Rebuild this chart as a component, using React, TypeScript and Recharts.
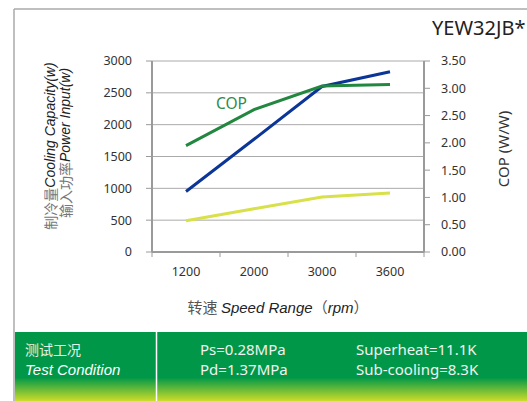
import { LineChart, Line, XAxis, YAxis, CartesianGrid } from "recharts";

const categories = ["1200", "2000", "3000", "3600"];
const coolingCapacity = [950, 1770, 2600, 2830];
const powerInput = [490, 680, 865, 925];
const cop = [1.95, 2.61, 3.04, 3.07];
const leftTicks = [0, 500, 1000, 1500, 2000, 2500, 3000];
const rightTicks = [0, 0.5, 1, 1.5, 2, 2.5, 3, 3.5];
const xTicks = [0, 1, 2, 3, 4];

const data = categories.map((c, i) => ({
  x: i + 0.5,
  speed: c,
  capacity: coolingCapacity[i],
  power: powerInput[i],
  cop: cop[i],
}));

const PLOT_W = 272;
const BAND = PLOT_W / categories.length;
const AXIS = "#9a9a9a";
const TICK_FONT = { fontSize: 12.5, fill: "#333", fontFamily: "Noto Sans" };

function SpeedTick(props: any) {
  const { x, y, payload } = props;
  const i = payload.value;
  if (i >= categories.length) return null;
  return (
    <text x={x + BAND / 2} y={y} dy="0.71em" textAnchor="middle" {...TICK_FONT}>
      {categories[i]}
    </text>
  );
}

export default function App() {
  return (
    <div
      style={{
        position: "absolute",
        left: 0,
        top: 0,
        width: 527,
        height: 401,
        overflow: "hidden",
        background: "#fff",
      }}
    >
      <svg width={527} height={401} style={{ position: "absolute", left: 0, top: 0 }}>
        <defs>
          <linearGradient id="band" x1="0" y1="0" x2="0" y2="1">
            <stop offset="0" stopColor="#009848" />
            <stop offset="0.66" stopColor="#009848" />
            <stop offset="1" stopColor="#cddc2a" />
          </linearGradient>
        </defs>
        <rect x={15} y={332} width={512} height={69} fill="url(#band)" />
        <line x1={14} y1={9} x2={527} y2={9} stroke="#aaa" strokeWidth={1.5} />
        <line x1={14} y1={9} x2={14} y2={401} stroke="#aaa" strokeWidth={1.5} />
        <line x1={156.5} y1={332} x2={156.5} y2={401} stroke="#fff" strokeWidth={1.5} />
      </svg>

      <div style={{ position: "absolute", left: 0, top: 0 }}>
        <LineChart
          width={527}
          height={330}
          data={data}
          margin={{ top: 61, left: 112, right: 63, bottom: 48 }}
        >
          <CartesianGrid horizontal vertical={false} stroke="#aaa" strokeWidth={1} yAxisId="left" />
          <XAxis
            dataKey="x"
            type="number"
            domain={[0, categories.length]}
            ticks={xTicks}
            interval={0}
            height={30}
            tick={<SpeedTick />}
            tickSize={5}
            tickMargin={10}
            axisLine={{ stroke: AXIS, strokeWidth: 2 }}
            tickLine={{ stroke: AXIS }}
          />
          <YAxis
            yAxisId="left"
            domain={[0, 3000]}
            ticks={leftTicks}
            interval={0}
            width={40}
            tick={TICK_FONT}
            tickSize={6}
            tickMargin={14}
            axisLine={{ stroke: AXIS, strokeWidth: 2 }}
            tickLine={{ stroke: AXIS }}
          />
          <YAxis
            yAxisId="right"
            orientation="right"
            domain={[0, 3.5]}
            ticks={rightTicks}
            interval={0}
            width={40}
            tick={{ ...TICK_FONT, textAnchor: "start" }}
            tickFormatter={(v: number) => v.toFixed(2)}
            tickSize={6}
            tickMargin={11}
            axisLine={{ stroke: AXIS, strokeWidth: 2 }}
            tickLine={{ stroke: AXIS }}
          />
          <Line
            yAxisId="left"
            dataKey="power"
            stroke="#d8e04a"
            strokeWidth={3}
            dot={false}
            isAnimationActive={false}
          />
          <Line
            yAxisId="left"
            dataKey="capacity"
            stroke="#0b3597"
            strokeWidth={3}
            dot={false}
            isAnimationActive={false}
          />
          <Line
            yAxisId="right"
            dataKey="cop"
            stroke="#22873f"
            strokeWidth={3}
            dot={false}
            isAnimationActive={false}
          />
        </LineChart>
      </div>

      <svg width={527} height={401} style={{ position: "absolute", left: 0, top: 0, pointerEvents: "none" }}>
        <text x={432} y={35} fontSize={20} fill="#222" fontFamily="Noto Sans">
          YEW32JB*
        </text>
        <text x={216} y={109} fontSize={15.5} fill="#2e8b4a" fontFamily="Noto Sans">
          COP
        </text>
        <text
          transform="translate(50,146) rotate(-90)"
          textAnchor="middle"
          dominantBaseline="central"
          fontSize={14}
        >
          <tspan fill="#777" fontFamily="Noto Sans CJK SC">制冷量</tspan>
          <tspan fill="#222" fontStyle="italic" fontFamily="Liberation Sans">Cooling Capacity(w)</tspan>
        </text>
        <text
          transform="translate(65,143) rotate(-90)"
          textAnchor="middle"
          dominantBaseline="central"
          fontSize={14}
        >
          <tspan fill="#777" fontFamily="Noto Sans CJK SC">输入功率</tspan>
          <tspan fill="#222" fontStyle="italic" fontFamily="Liberation Sans">Power Input(w)</tspan>
        </text>
        <text
          transform="translate(503,149) rotate(-90)"
          textAnchor="middle"
          dominantBaseline="central"
          fontSize={15}
          fill="#333"
          fontFamily="Noto Sans"
        >
          COP (W/W)
        </text>
        <text x={278} y={313} textAnchor="middle" fontSize={15}>
          <tspan fill="#555" fontFamily="Noto Sans CJK SC">转速 </tspan>
          <tspan fill="#222" fontStyle="italic" fontFamily="Liberation Sans">Speed Range</tspan>
          <tspan fill="#555" fontFamily="Noto Sans CJK SC">（</tspan>
          <tspan fill="#222" fontStyle="italic" fontFamily="Liberation Sans">rpm</tspan>
          <tspan fill="#555" fontFamily="Noto Sans CJK SC">）</tspan>
        </text>

        <text x={25} y={355} fontSize={14} fill="#e6f2e6" fontFamily="Noto Sans CJK SC">
          测试工况
        </text>
        <text x={25} y={375} fontSize={15} fill="#fff" fontStyle="italic" fontFamily="Liberation Sans">
          Test Condition
        </text>
        <text x={200} y={355} fontSize={15} fill="#f2f2f2" fontFamily="Noto Sans">
          Ps=0.28MPa
        </text>
        <text x={200} y={375} fontSize={15} fill="#f2f2f2" fontFamily="Noto Sans">
          Pd=1.37MPa
        </text>
        <text x={356} y={355} fontSize={15} fill="#f2f2f2" fontFamily="Noto Sans">
          Superheat=11.1K
        </text>
        <text x={356} y={375} fontSize={15} fill="#f2f2f2" fontFamily="Noto Sans">
          Sub-cooling=8.3K
        </text>
      </svg>
    </div>
  );
}
